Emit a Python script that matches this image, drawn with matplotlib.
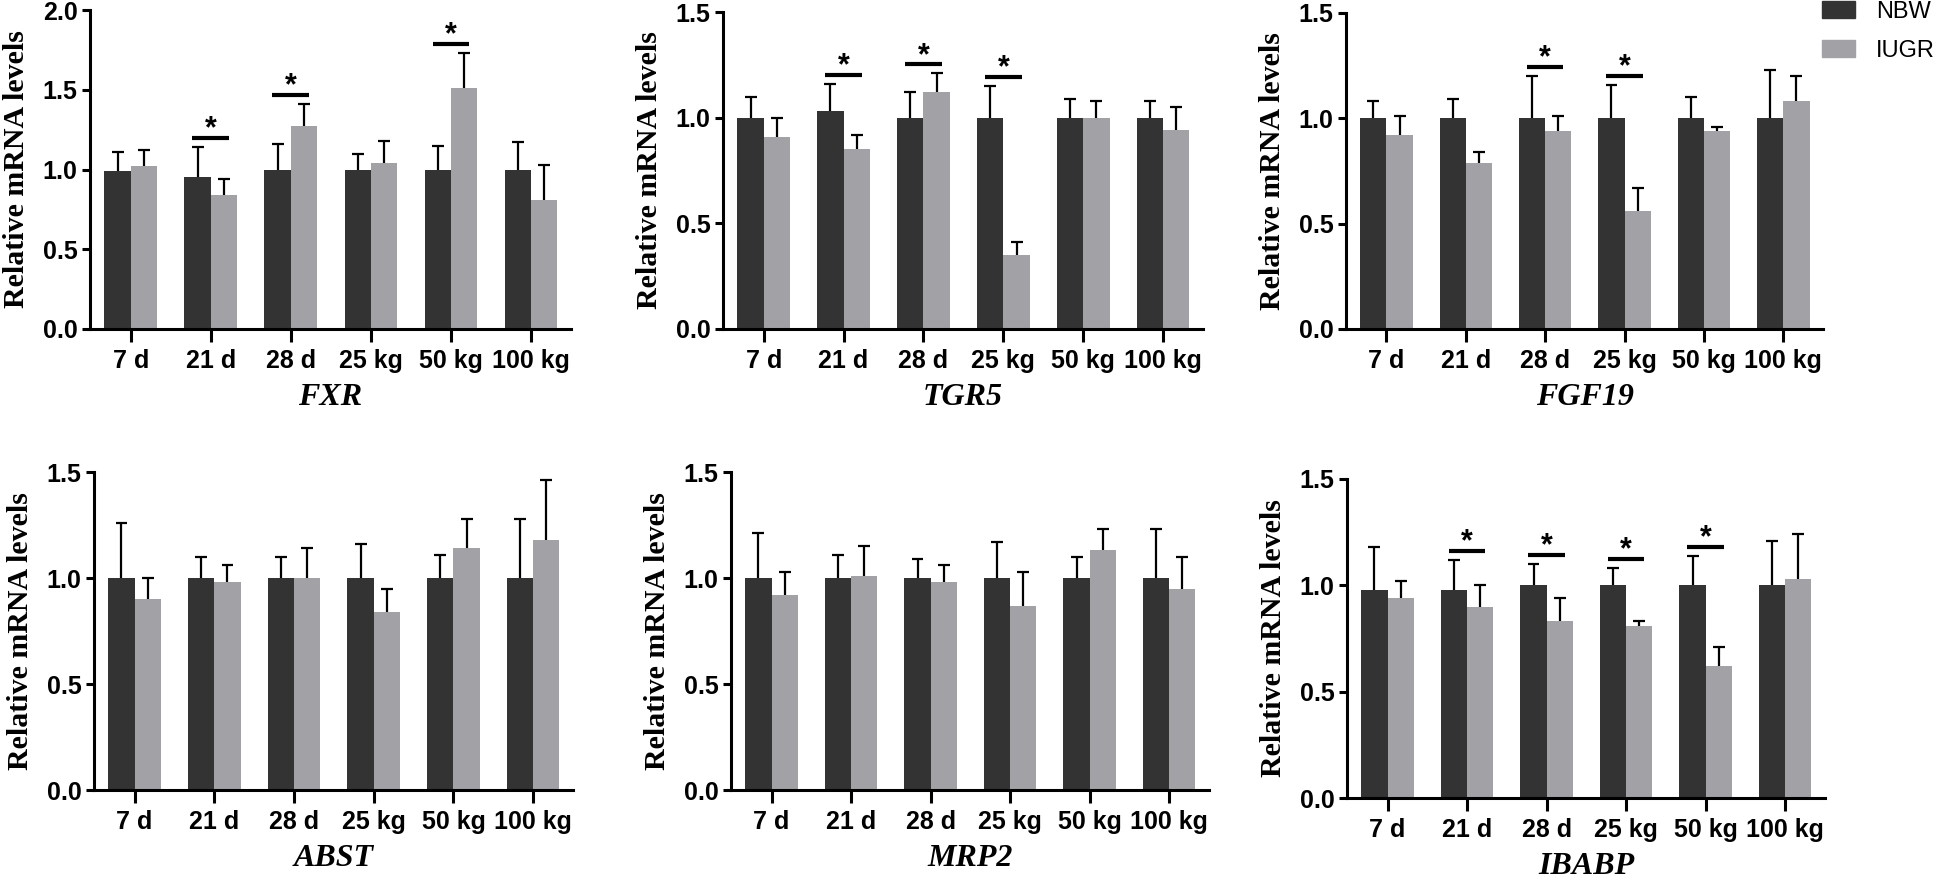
import matplotlib
matplotlib.use("Agg")
import matplotlib.pyplot as plt
from matplotlib import font_manager
import numpy as np

# --- Data ---
stages = ["7 d", "21 d", "28 d", "25 kg", "50 kg", "100 kg"]
genes = ["FXR", "TGR5", "FGF19", "ABST", "MRP2", "IBABP"]
y_max = [2.0, 1.5, 1.5, 1.5, 1.5, 1.5]

nbw_mean = {
    "FXR":   [0.99, 0.95, 1.00, 1.00, 1.00, 1.00],
    "TGR5":  [1.00, 1.03, 1.00, 1.00, 1.00, 1.00],
    "FGF19": [1.00, 1.00, 1.00, 1.00, 1.00, 1.00],
    "ABST":  [1.00, 1.00, 1.00, 1.00, 1.00, 1.00],
    "MRP2":  [1.00, 1.00, 1.00, 1.00, 1.00, 1.00],
    "IBABP": [0.98, 0.98, 1.00, 1.00, 1.00, 1.00],
}
nbw_upper = {
    "FXR":   [1.11, 1.14, 1.16, 1.10, 1.15, 1.17],
    "TGR5":  [1.10, 1.16, 1.12, 1.15, 1.09, 1.08],
    "FGF19": [1.08, 1.09, 1.20, 1.16, 1.10, 1.23],
    "ABST":  [1.26, 1.10, 1.10, 1.16, 1.11, 1.28],
    "MRP2":  [1.21, 1.11, 1.09, 1.17, 1.10, 1.23],
    "IBABP": [1.18, 1.12, 1.10, 1.08, 1.14, 1.21],
}
iugr_mean = {
    "FXR":   [1.02, 0.84, 1.27, 1.04, 1.51, 0.81],
    "TGR5":  [0.91, 0.85, 1.12, 0.35, 1.00, 0.94],
    "FGF19": [0.92, 0.79, 0.94, 0.56, 0.94, 1.08],
    "ABST":  [0.90, 0.98, 1.00, 0.84, 1.14, 1.18],
    "MRP2":  [0.92, 1.01, 0.98, 0.87, 1.13, 0.95],
    "IBABP": [0.94, 0.90, 0.83, 0.81, 0.62, 1.03],
}
iugr_upper = {
    "FXR":   [1.12, 0.94, 1.41, 1.18, 1.73, 1.03],
    "TGR5":  [1.00, 0.92, 1.21, 0.41, 1.08, 1.05],
    "FGF19": [1.01, 0.84, 1.01, 0.67, 0.96, 1.20],
    "ABST":  [1.00, 1.06, 1.14, 0.95, 1.28, 1.46],
    "MRP2":  [1.03, 1.15, 1.06, 1.03, 1.23, 1.10],
    "IBABP": [1.02, 1.00, 0.94, 0.83, 0.71, 1.24],
}
# stages marked with * (NBW vs IUGR)
significant = {
    "FXR":   ["21 d", "28 d", "50 kg"],
    "TGR5":  ["21 d", "28 d", "25 kg"],
    "FGF19": ["28 d", "25 kg"],
    "ABST":  [],
    "MRP2":  [],
    "IBABP": ["21 d", "28 d", "25 kg", "50 kg"],
}

# --- Style ---
dark = "#333333"
light = "#a2a1a6"
W, H = 1943, 884

installed = {f.name for f in font_manager.fontManager.ttflist}
if "Liberation Sans Narrow" in installed:
    tick_family, tick_size = "Liberation Sans Narrow", 20
else:
    tick_family, tick_size = "Liberation Sans", 18

# axes boxes in pixels: left, right, y of top tick, y of zero line
boxes = [
    (90, 571, 10, 329), (723, 1203, 12, 329), (1346, 1823, 13, 329),
    (94, 573, 472, 790), (731, 1209, 472, 790), (1347, 1825, 479, 798),
]

fig = plt.figure(figsize=(W / 100, H / 100), dpi=100)

x = np.arange(len(stages))
bw = 0.33

for gene, ym, (l, r, t, b) in zip(genes, y_max, boxes):
    ax = fig.add_axes([l / W, 1 - b / H, (r - l) / W, (b - t) / H])

    ax.bar(x - bw / 2, nbw_mean[gene], width=bw, color=dark, zorder=2)
    ax.bar(x + bw / 2, iugr_mean[gene], width=bw, color=light, zorder=2)

    # upper-only error bars
    for xs, m, u in [(x - bw / 2, nbw_mean[gene], nbw_upper[gene]),
                     (x + bw / 2, iugr_mean[gene], iugr_upper[gene])]:
        ax.vlines(xs, m, u, color="black", lw=1.6, zorder=3)
        ax.hlines(u, xs - 0.075, xs + 0.075, color="black", lw=1.6, zorder=3)

    # significance bars
    for st in significant[gene]:
        i = stages.index(st)
        top = max(nbw_upper[gene][i], iugr_upper[gene][i]) + 0.028 * ym
        ax.hlines(top, i - 0.23, i + 0.23, color="black", lw=3, zorder=3)
        ax.text(i, top + 0.002 * ym, "*", ha="center", va="baseline",
                fontsize=22, fontweight="bold", family="Liberation Sans")

    ax.set_xlim(-0.51, 5.5)
    ax.set_ylim(0, ym)
    ax.set_yticks(np.arange(0, ym + 0.01, 0.5))
    ax.set_yticklabels([f"{v:.1f}" for v in np.arange(0, ym + 0.01, 0.5)])
    ax.set_xticks(x)
    ax.set_xticklabels(stages)

    for s in ["top", "right"]:
        ax.spines[s].set_visible(False)
    for s in ["left", "bottom"]:
        ax.spines[s].set_linewidth(2.2)
    ax.tick_params(axis="x", length=9.5, width=2.2, pad=5)
    ax.tick_params(axis="y", length=6, width=2.2, pad=3)
    for lab in ax.get_xticklabels() + ax.get_yticklabels():
        lab.set_fontfamily(tick_family)
        lab.set_fontweight("bold")
        lab.set_fontsize(tick_size)

    ax.set_ylabel("Relative mRNA levels", family="Liberation Serif",
                  fontweight="bold", fontsize=21.5)
    ax.yaxis.set_label_coords(-0.125, 0.5)
    ax.set_xlabel(gene, family="Liberation Serif", fontweight="bold",
                  style="italic", fontsize=23, labelpad=7)

# --- Legend ---
h1 = plt.Rectangle((0, 0), 1, 1, color=dark)
h2 = plt.Rectangle((0, 0), 1, 1, color=light)
fig.legend([h1, h2], ["NBW", "IUGR"], loc="upper left",
           bbox_to_anchor=(1822 / W, 1 - 1 / H), frameon=False,
           prop={"family": "Liberation Sans", "size": 17},
           handlelength=1.4, handleheight=0.7, handletextpad=0.9,
           labelspacing=0.7, borderpad=0, borderaxespad=0)

fig.savefig("out.png", dpi=100)
